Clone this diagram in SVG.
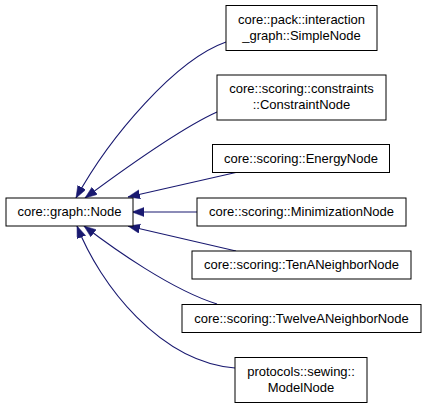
<svg xmlns="http://www.w3.org/2000/svg" width="427" height="408" viewBox="0 0 427 408">
<style>
.n rect{fill:#fff;stroke:#000;stroke-width:1}
.n text{font-family:"Liberation Sans",Arial,sans-serif;font-size:13px;text-anchor:middle;fill:#000}
.e path{fill:none;stroke:#191970;stroke-width:1.1;marker-end:url(#ah)}
</style>
<defs>
<marker id="ah" markerUnits="userSpaceOnUse" markerWidth="13" markerHeight="10" refX="12" refY="4.5" orient="auto">
<path d="M0,0 L12,4.5 L0,9 z" fill="#191970" stroke="#191970" stroke-width="0.5"/>
</marker>
</defs>
<rect width="427" height="408" fill="#fff"/>
<g id="edges" class="e">
<path d="M226,42 C176,59.5 110,136 76,198"/>
<path d="M217,112 C177,130 112,178 85,198"/>
<path d="M238,172 L128,197"/>
<path d="M197,212 L132,212"/>
<path d="M236,251 L128,226"/>
<path d="M217,304 C172,290 114,249 84,226"/>
<path d="M235,368 C160,362 100,285 77,226"/>
</g>
<g id="node_Node" class="n"><rect x="6" y="198" width="127" height="28"/><text x="69.5" y="216">core::graph::Node</text></g>
<g id="node_SimpleNode" class="n"><rect x="226" y="5.5" width="151" height="45"/><text x="301.5" y="24">core::pack::interaction</text><text x="301.5" y="39.5">_graph::SimpleNode</text></g>
<g id="node_ConstraintNode" class="n"><rect x="217" y="75" width="169" height="45"/><text x="301.5" y="93">core::scoring::constraints</text><text x="301.5" y="108.5">::ConstraintNode</text></g>
<g id="node_EnergyNode" class="n"><rect x="212.5" y="144.5" width="177" height="28"/><text x="301" y="162.5">core::scoring::EnergyNode</text></g>
<g id="node_MinimizationNode" class="n"><rect x="197" y="198" width="209" height="28"/><text x="301.5" y="216">core::scoring::MinimizationNode</text></g>
<g id="node_TenANeighborNode" class="n"><rect x="192" y="251" width="219" height="28"/><text x="301.5" y="269">core::scoring::TenANeighborNode</text></g>
<g id="node_TwelveANeighborNode" class="n"><rect x="182" y="304.5" width="239" height="28"/><text x="301.5" y="322.5">core::scoring::TwelveANeighborNode</text></g>
<g id="node_ModelNode" class="n"><rect x="235" y="357.5" width="132" height="45"/><text x="301" y="376">protocols::sewing::</text><text x="301" y="391.5">ModelNode</text></g>
</svg>
